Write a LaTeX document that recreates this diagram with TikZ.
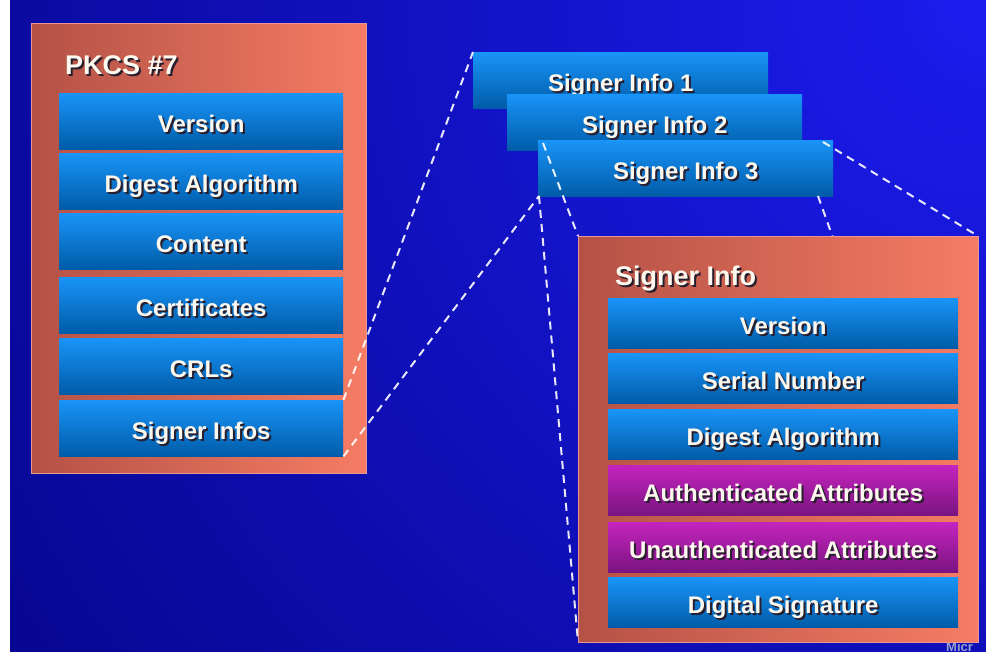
\documentclass[tikz,border=0pt]{standalone}
\usepackage{fontspec}
\setmainfont{Liberation Sans}
\definecolor{bgD}{RGB}{0,0,116}
\definecolor{bgL}{RGB}{28,28,238}
\definecolor{salD}{RGB}{180,82,70}
\definecolor{salL}{RGB}{246,124,100}
\definecolor{salE}{RGB}{232,150,150}
\definecolor{blueT}{RGB}{25,148,248}
\definecolor{blueB}{RGB}{0,92,168}
\definecolor{purT}{RGB}{196,36,190}
\definecolor{purB}{RGB}{122,20,128}
\definecolor{txtw}{RGB}{252,248,238}
\definecolor{txtsh}{RGB}{40,30,45}
\definecolor{micro}{RGB}{150,160,205}
\newcommand\shtxt[1]{\makebox[0pt][l]{\hspace{2pt}\raisebox{-2pt}{\textcolor{txtsh}{#1}}}\textcolor{txtw}{#1}}
\usetikzlibrary{calc}
\tikzset{
  salbox/.style={anchor=north west, inner sep=0pt, draw=salE, line width=1pt, left color=salD, right color=salL},
  cell/.style={anchor=north west, inner sep=0pt, top color=blueT, bottom color=blueB, text height=22pt, text depth=0pt, font=\bfseries\fontsize{24}{28}\selectfont},
  pcell/.style={cell, minimum width=284pt, minimum height=56pt},
  scell/.style={cell, minimum width=350pt, minimum height=50pt},
  stk/.style={cell, minimum width=295pt, minimum height=56pt},
  purp/.style={top color=purT, bottom color=purB},
  ttl/.style={anchor=base west, inner sep=0pt, font=\bfseries\fontsize{27}{32}\selectfont},
  zoomline/.style={draw=white, line width=2pt, dash pattern=on 8pt off 6pt, opacity=0.9},
}
\begin{document}
\begin{tikzpicture}[x=1pt,y=-1pt]
\useasboundingbox (0,0) rectangle (986,652);
\fill[white] (0,0) rectangle (986,652);
\begin{scope}
  \clip (10,1) rectangle (986,652);
  \fill[bgD] (10,1) rectangle (986,652);
  \shade[inner color=bgL, outer color=bgD] (986,0) circle (1550pt);
\end{scope}
\node[anchor=base west, inner sep=0pt, text=micro, font=\bfseries\fontsize{13}{15}\selectfont] (ms) at (946,651) {Micr};

% PKCS #7 container
\node[salbox, minimum width=335pt, minimum height=450pt] (pk) at (31,23) {};
\node[ttl] (pkt) at (65,75) {\shtxt{PKCS \#7}};
\node[pcell] (p1) at (59,93)  {\shtxt{Version}};
\node[pcell] (p2) at (59,153) {\shtxt{Digest Algorithm}};
\node[pcell] (p3) at (59,213) {\shtxt{Content}};
\node[pcell] (p4) at (59,277) {\shtxt{Certificates}};
\node[pcell] (p5) at (59,338) {\shtxt{CRLs}};
\node[pcell] (p6) at (59,400) {\shtxt{Signer Infos}};

% stacked signer infos
\node[stk] (si1) at (473,52)  {\shtxt{Signer Info 1}};
\node[stk] (si2) at (507,94)  {\shtxt{Signer Info 2}};
\node[stk] (si3) at (538,140) {\shtxt{Signer Info 3}};

% zoom coordinates
\coordinate (s3tl) at (543,143);
\coordinate (s3tr) at (823,142);
\coordinate (s3bl) at (539,196);
\coordinate (s3br) at (818,196);
\coordinate (btl) at (578,236);
\coordinate (btr) at (978,236);
\coordinate (bbl) at (578,642);
\coordinate (bbr) at (978,642);

\draw[zoomline] (p6.north east) -- (si1.north west);
\draw[zoomline] (p6.south east) -- (s3bl);
\draw[zoomline] (s3tl) -- (btl);
\draw[zoomline] (s3tr) -- (btr);
\draw[zoomline] (s3bl) -- (bbl);
\draw[zoomline] (s3br) -- (bbr);

% Signer Info container
\node[salbox, minimum width=400pt, minimum height=406pt] (sib) at (btl) {};
\node[ttl] (sit) at (615,286) {\shtxt{Signer Info}};
\node[scell] (r1) at (608,298) {\shtxt{Version}};
\node[scell] (r2) at (608,353) {\shtxt{Serial Number}};
\node[scell] (r3) at (608,409) {\shtxt{Digest Algorithm}};
\node[scell,purp] (r4) at (608,465) {\shtxt{Authenticated Attributes}};
\node[scell,purp] (r5) at (608,522) {\shtxt{Unauthenticated Attributes}};
\node[scell] (r6) at (608,577) {\shtxt{Digital Signature}};
\end{tikzpicture}
\end{document}
